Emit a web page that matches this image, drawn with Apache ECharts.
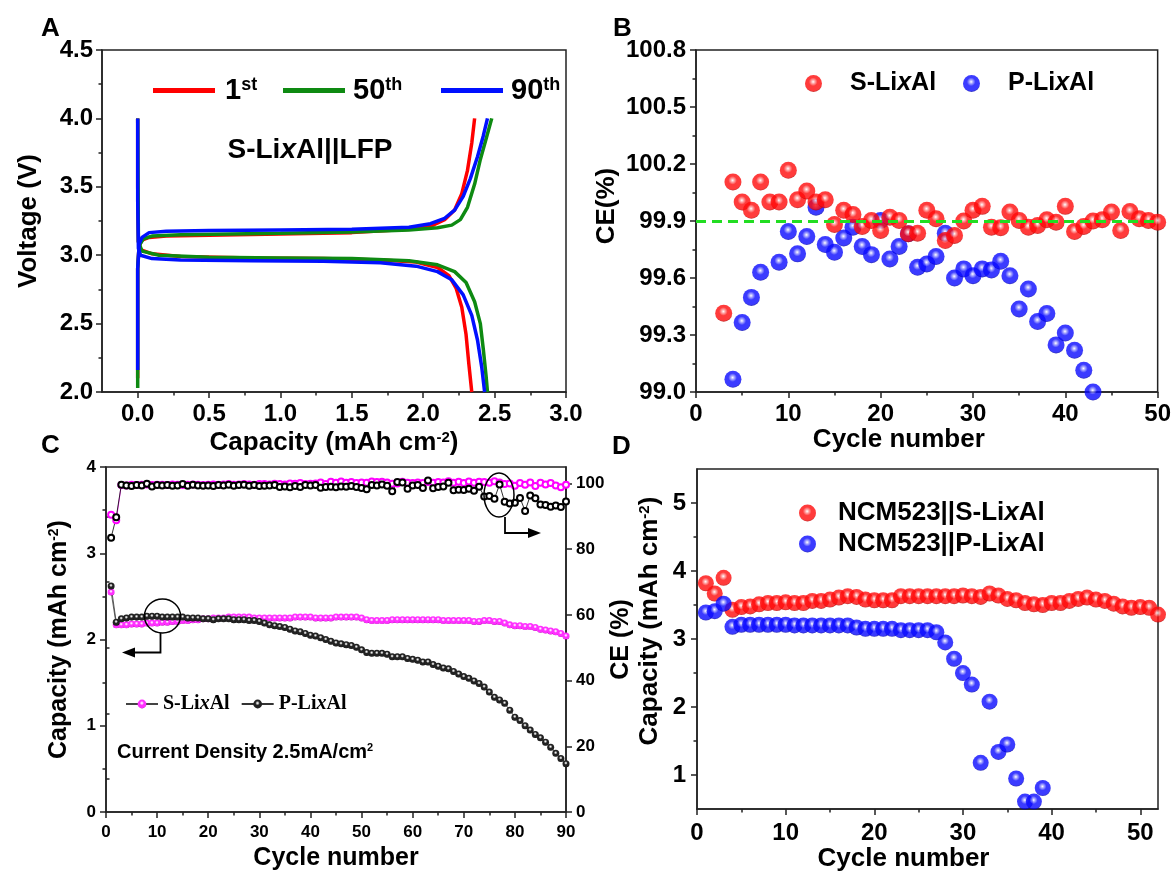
<!DOCTYPE html>
<html><head><meta charset="utf-8">
<script src="https://cdn.jsdelivr.net/npm/echarts@6/dist/echarts.min.js"></script>
<style>html,body{margin:0;padding:0;background:#fff}#c{width:1174px;height:873px}</style>
</head><body><div id="c"></div>
<script>
const SANS = "'Liberation Sans', Arial, Helvetica, sans-serif";
const SERIF = "'Liberation Serif', 'Times New Roman', serif";

// ---------- Panel A: voltage profiles [capacity (mAh cm-2), voltage (V)] ----------
const charge1st = [[0,2.10],[0,2.90],[0.01,3.07],[0.03,3.11],[0.08,3.13],[0.2,3.14],[0.5,3.145],[1.0,3.155],[1.5,3.165],[1.9,3.19],[2.05,3.21],[2.15,3.26],[2.22,3.33],[2.27,3.45],[2.31,3.62],[2.34,3.82],[2.36,4.0]];
const discharge1st = [[0,4.0],[0,3.5],[0.005,3.1],[0.02,3.04],[0.1,3.01],[0.3,2.99],[0.8,2.98],[1.3,2.975],[1.7,2.965],[1.95,2.95],[2.1,2.91],[2.18,2.85],[2.23,2.76],[2.27,2.62],[2.3,2.42],[2.32,2.2],[2.34,2.0]];
const charge50th = [[0,2.03],[0,2.90],[0.01,3.07],[0.04,3.12],[0.1,3.14],[0.3,3.15],[1.0,3.16],[1.5,3.17],[1.9,3.185],[2.1,3.2],[2.2,3.22],[2.26,3.26],[2.31,3.35],[2.36,3.52],[2.4,3.7],[2.44,3.85],[2.48,4.0]];
const discharge50th = [[0,4.0],[0.005,3.1],[0.03,3.03],[0.15,3.0],[0.5,2.985],[1.0,2.98],[1.5,2.975],[1.9,2.96],[2.1,2.93],[2.22,2.88],[2.3,2.8],[2.36,2.66],[2.4,2.5],[2.42,2.32],[2.44,2.12],[2.45,2.0]];
const charge90th = [[0,2.16],[0,2.90],[0.01,3.08],[0.03,3.13],[0.08,3.165],[0.2,3.175],[0.5,3.18],[1.0,3.185],[1.5,3.19],[1.9,3.205],[2.05,3.23],[2.15,3.27],[2.22,3.33],[2.28,3.43],[2.33,3.56],[2.38,3.72],[2.42,3.87],[2.45,4.0]];
const discharge90th = [[0,4.0],[0,3.4],[0.005,3.05],[0.02,3.0],[0.1,2.975],[0.3,2.965],[0.8,2.96],[1.3,2.955],[1.7,2.945],[1.95,2.92],[2.1,2.88],[2.2,2.82],[2.28,2.71],[2.34,2.56],[2.38,2.38],[2.41,2.18],[2.43,2.0]];
const aXLabels = [0,0.5,1.0,1.5,2.0,2.5,3.0];
const aXMinor = [0.25,0.75,1.25,1.75,2.25,2.75];

// ---------- Panel B: CE (%) ----------
const bCycleS = [3,4,5,6,7,8,9,10,11,12,13,14,15,16,17,18,19,20,21,22,23,24,25,26,27,28,29,30,31,32,33,34,35,36,37,38,39,40,41,42,43,44,45,46,47,48,49,50];
const bCE_S = [99.415,100.105,100.0,99.956,100.105,100.0,100.0,100.167,100.012,100.058,100.0,100.012,99.882,99.956,99.934,99.871,99.903,99.85,99.92,99.903,99.833,99.836,99.956,99.912,99.797,99.824,99.9,99.956,99.977,99.867,99.864,99.947,99.903,99.867,99.876,99.906,99.894,99.977,99.845,99.871,99.9,99.906,99.947,99.85,99.95,99.912,99.903,99.894];
const bCycleP = [4,5,6,7,9,10,11,12,13,14,15,16,17,18,19,20,21,22,23,24,25,26,27,28,29,30,31,32,33,34,35,36,37,38,39,40,41,42,43];
const bCE_P = [99.067,99.366,99.498,99.63,99.683,99.845,99.727,99.818,99.973,99.776,99.735,99.811,99.867,99.766,99.723,99.903,99.70,99.766,99.833,99.656,99.674,99.713,99.836,99.60,99.648,99.612,99.648,99.642,99.688,99.612,99.437,99.542,99.371,99.413,99.248,99.31,99.22,99.115,99.0];
const bRefCE = 99.9;

// ---------- Panel C: capacity & CE vs cycle (cycle = index + 1) ----------
const cCapS = [2.55,2.17,2.17,2.17,2.18,2.18,2.18,2.19,2.19,2.19,
  2.20,2.20,2.21,2.21,2.22,2.22,2.23,2.23,2.24,2.24,
  2.25,2.25,2.25,2.26,2.26,2.26,2.26,2.26,2.25,2.25,
  2.25,2.25,2.25,2.25,2.25,2.25,2.26,2.26,2.26,2.26,
  2.25,2.25,2.25,2.25,2.26,2.26,2.26,2.26,2.26,2.25,
  2.23,2.22,2.22,2.22,2.22,2.23,2.23,2.23,2.23,2.23,
  2.23,2.23,2.23,2.23,2.23,2.22,2.22,2.22,2.22,2.22,
  2.22,2.21,2.21,2.22,2.22,2.21,2.21,2.19,2.17,2.16,
  2.16,2.15,2.15,2.14,2.12,2.11,2.10,2.09,2.07,2.04];
const cCapP = [2.62,2.20,2.24,2.25,2.26,2.26,2.26,2.27,2.27,2.27,
  2.26,2.26,2.26,2.26,2.26,2.25,2.25,2.25,2.24,2.24,
  2.23,2.24,2.24,2.24,2.23,2.23,2.23,2.22,2.22,2.21,
  2.19,2.17,2.16,2.15,2.14,2.12,2.10,2.09,2.07,2.05,
  2.04,2.02,2.00,1.98,1.96,1.95,1.94,1.93,1.91,1.88,
  1.85,1.84,1.84,1.84,1.83,1.80,1.80,1.80,1.78,1.77,
  1.76,1.74,1.74,1.71,1.69,1.67,1.66,1.63,1.60,1.57,
  1.55,1.52,1.49,1.45,1.39,1.33,1.30,1.26,1.18,1.10,
  1.06,1.00,0.95,0.90,0.86,0.81,0.75,0.68,0.62,0.56];
const cCE_S = [90.5,88.8,99.5,99.4,99.6,99.5,99.6,99.7,99.5,99.6,
  99.6,99.5,99.7,99.6,99.5,99.6,99.7,99.6,99.5,99.6,
  99.7,99.6,99.7,99.8,99.6,99.7,99.8,99.7,99.6,99.8,
  99.8,99.7,99.9,99.8,99.7,100.0,99.9,100.1,99.8,99.9,
  100.0,100.3,99.8,100.5,100.2,100.6,100.2,100.4,100.1,100.3,
  100.2,100.6,100.4,100.5,100.3,99.9,100.0,100.5,100.2,100.1,
  100.3,100.1,100.4,100.2,100.4,100.3,100.7,100.2,100.5,100.1,
  100.6,100.2,100.5,100.4,100.2,100.7,100.3,99.8,100.0,99.3,
  100.1,99.6,100.3,99.2,100.2,99.7,100.1,99.4,98.8,99.6];
const cCE_P = [83.5,89.7,99.6,99.4,99.2,99.5,99.4,99.9,99.1,99.5,
  99.4,99.5,99.3,99.4,99.8,99.3,99.6,99.4,99.3,99.4,
  99.2,99.5,99.4,99.6,99.3,99.5,99.6,99.3,99.5,99.2,
  99.3,99.4,99.5,98.9,99.1,98.8,99.2,98.9,99.5,99.4,
  99.5,98.7,98.9,99.0,98.8,99.1,99.0,99.2,98.9,98.6,
  98.2,99.5,99.4,99.7,99.3,97.6,100.4,100.3,98.4,99.4,
  99.5,98.6,100.9,98.5,98.9,99.1,100.2,97.9,98.1,98.0,
  98.4,97.8,99.0,96.0,96.2,95.3,99.7,94.4,93.9,94.1,
  95.6,91.6,96.3,95.5,93.6,93.4,92.9,93.3,92.8,94.5];
const cRightLabels = [0,20,40,60,80,100];
const cRightMinor = [10,30,50,70,90];

// ---------- Panel D: capacity vs cycle (cycle = index + 1) ----------
const dCapS = [3.82,3.67,3.90,3.43,3.47,3.48,3.51,3.53,3.53,3.54,3.53,3.53,3.56,3.56,3.58,3.61,3.63,3.62,3.58,3.57,3.57,3.57,3.63,3.63,3.63,3.63,3.63,3.63,3.63,3.64,3.63,3.62,3.67,3.64,3.59,3.57,3.53,3.51,3.50,3.53,3.53,3.56,3.59,3.61,3.58,3.56,3.52,3.48,3.46,3.47,3.46,3.36];
const dCapP = [3.39,3.41,3.52,3.18,3.21,3.21,3.21,3.21,3.21,3.21,3.20,3.20,3.20,3.20,3.20,3.20,3.20,3.17,3.15,3.15,3.15,3.15,3.13,3.13,3.13,3.13,3.10,2.95,2.71,2.50,2.33,1.18,2.08,1.34,1.45,0.95,0.61,0.61,0.81];
const dXLabels = [0,10,20,30,40,50];
const dXMinor = [5,15,25,35,45];
const dYLabels = [1,2,3,4,5];
const dYMinor = [1.5,2.5,3.5,4.5];

// ---------- helpers ----------
const AX = '#222';
function sphere(hi, mid, dark){
  return {type:'radial', x:0.48, y:0.4, r:0.6, colorStops:[
    {offset:0, color:'#ffffff'},{offset:0.16, color:hi},{offset:0.42, color:mid},{offset:0.85, color:mid},{offset:1, color:dark}]};
}
const RED = sphere('#ff9a9a','#ff0a0a','#b40000');
const BLUE = sphere('#9a9aff','#0a0aff','#0000a8');
const MAG = sphere('#ffc8ff','#ff30ff','#c000c0');
const BLK = sphere('#c8c8c8','#222222','#000000');

function lbl(size, margin, fmt, custom){
  const o = {show:true, fontFamily:SANS, fontWeight:'bold', fontSize:size, color:'#000', margin:margin};
  if (fmt) o.formatter = fmt;
  if (custom) o.customValues = custom;
  return o;
}
function tick(len, custom){
  const o = {show:true, inside:false, length:len, lineStyle:{color:AX, width:1.5}};
  if (custom) o.customValues = custom;
  return o;
}
const minor = {show:true, splitNumber:2, length:3.5, lineStyle:{color:AX, width:1.5}};
const aLine = {show:true, onZero:false, lineStyle:{color:AX, width:1.5}};
function nameStyle(size, pad){
  return {fontFamily:SANS, fontWeight:'bold', fontSize:size, color:'#000', padding:pad||0,
    rich:{s:{fontFamily:SANS, fontWeight:'bold', fontSize:Math.round(size*0.58), color:'#000', verticalAlign:'top'}}};
}
function minorAxis(gi, pos, min, max, vals){
  return {type:'value', gridIndex:gi, position:pos, min:min, max:max,
    axisLine:{show:false}, axisLabel:{show:false}, splitLine:{show:false},
    axisTick:tick(3.5, vals)};
}
const gridBase = {show:true, borderColor:AX, borderWidth:1.5, backgroundColor:'transparent', containLabel:false};

const option = {
  animation:false,
  backgroundColor:'#fff',
  textStyle:{fontFamily:SANS},
  grid:[
    Object.assign({left:102, top:50, width:464, height:342}, gridBase),
    Object.assign({left:696, top:50, width:462, height:342}, gridBase),
    Object.assign({left:106, top:467, width:460, height:345}, gridBase),
    Object.assign({left:697, top:469, width:461, height:341}, gridBase)
  ],
  xAxis:[
    {type:'value', gridIndex:0, min:-0.25, max:3, axisLine:aLine, splitLine:{show:false},
      axisTick:tick(6, aXLabels), axisLabel:lbl(24, 10, v=>v.toFixed(1), aXLabels),
      name:'Capacity (mAh cm{s|-2})', nameLocation:'middle', nameGap:38, nameTextStyle:nameStyle(26)},
    minorAxis(0, 'bottom', -0.25, 3, aXMinor),
    {type:'value', gridIndex:1, min:0, max:50, interval:10, axisLine:aLine, splitLine:{show:false},
      axisTick:tick(6), minorTick:minor, axisLabel:lbl(24, 10),
      name:'Cycle number', nameLocation:'middle', nameGap:34, nameTextStyle:nameStyle(26,[0,56,0,0])},
    {type:'value', gridIndex:2, min:0, max:90, interval:10, axisLine:aLine, splitLine:{show:false},
      axisTick:tick(6), minorTick:minor, axisLabel:lbl(17, 12),
      name:'Cycle number', nameLocation:'middle', nameGap:34, nameTextStyle:nameStyle(25)},
    {type:'value', gridIndex:3, min:0, max:52, axisLine:aLine, splitLine:{show:false},
      axisTick:tick(6, dXLabels), axisLabel:lbl(24, 12, null, dXLabels),
      name:'Cycle number', nameLocation:'middle', nameGap:34, nameTextStyle:nameStyle(26,[0,48,0,0])},
    minorAxis(3, 'bottom', 0, 52, dXMinor)
  ],
  yAxis:[
    {type:'value', gridIndex:0, min:2, max:4.5, interval:0.5, axisLine:aLine, splitLine:{show:false},
      axisTick:tick(6), minorTick:minor, axisLabel:lbl(24, 9, v=>v.toFixed(1)),
      name:'Voltage (V)', nameLocation:'middle', nameGap:60, nameTextStyle:nameStyle(26)},
    {type:'value', gridIndex:1, min:99, max:100.8, interval:0.3, axisLine:aLine, splitLine:{show:false},
      axisTick:tick(6), minorTick:minor, axisLabel:lbl(24, 10, v=>v.toFixed(1)),
      name:'CE(%)', nameLocation:'middle', nameGap:76, nameTextStyle:nameStyle(26,[0,0,0,30])},
    {type:'value', gridIndex:2, min:0, max:4, interval:1, axisLine:aLine, splitLine:{show:false},
      axisTick:tick(6), minorTick:minor, axisLabel:lbl(17, 10),
      name:'Capacity (mAh cm{s|-2})', nameLocation:'middle', nameGap:34, nameTextStyle:nameStyle(25)},
    {type:'value', gridIndex:2, position:'right', min:0, max:105, axisLine:aLine, splitLine:{show:false},
      axisTick:tick(6, cRightLabels), axisLabel:lbl(17, 10, null, cRightLabels),
      name:'CE (%)', nameLocation:'middle', nameGap:40, nameTextStyle:nameStyle(25)},
    minorAxis(2, 'right', 0, 105, cRightMinor),
    {type:'value', gridIndex:3, min:0.5, max:5.5, axisLine:aLine, splitLine:{show:false},
      axisTick:tick(6, dYLabels), axisLabel:lbl(24, 11, null, dYLabels),
      name:'Capacity (mAh cm{s|-2})', nameLocation:'middle', nameGap:34, nameTextStyle:nameStyle(26,[0,0,0,36])},
    minorAxis(3, 'left', 0.5, 5.5, dYMinor)
  ],
  legend:[
    {data:['A1'], left:148, top:71, icon:'rect', itemWidth:62, itemHeight:5, selectedMode:false,
      formatter:()=>'{n|1}{s|st}',
      textStyle:{padding:[0,0,0,5], rich:{n:{fontFamily:SANS,fontWeight:'bold',fontSize:29,color:'#000'}, s:{fontFamily:SANS,fontWeight:'bold',fontSize:18,color:'#000',verticalAlign:'top'}}}},
    {data:['A50'], left:278, top:71, icon:'rect', itemWidth:62, itemHeight:5, selectedMode:false,
      formatter:()=>'{n|50}{s|th}',
      textStyle:{padding:[0,0,0,3], rich:{n:{fontFamily:SANS,fontWeight:'bold',fontSize:29,color:'#000'}, s:{fontFamily:SANS,fontWeight:'bold',fontSize:18,color:'#000',verticalAlign:'top'}}}},
    {data:['A90'], left:436, top:71, icon:'rect', itemWidth:62, itemHeight:5, selectedMode:false,
      formatter:()=>'{n|90}{s|th}',
      textStyle:{padding:[0,0,0,3], rich:{n:{fontFamily:SANS,fontWeight:'bold',fontSize:29,color:'#000'}, s:{fontFamily:SANS,fontWeight:'bold',fontSize:18,color:'#000',verticalAlign:'top'}}}},
    {data:['BS'], left:800, top:66, icon:'circle', itemWidth:17, itemHeight:17, selectedMode:false,
      formatter:()=>'{a|S-Li}{i|x}{a|Al}',
      textStyle:{padding:[0,0,0,23], rich:{a:{fontFamily:SANS,fontWeight:'bold',fontSize:25,color:'#000'}, i:{fontFamily:SANS,fontWeight:'bold',fontStyle:'italic',fontSize:25,color:'#000'}}}},
    {data:['BP'], left:958, top:66, icon:'circle', itemWidth:17, itemHeight:17, selectedMode:false,
      formatter:()=>'{a|P-Li}{i|x}{a|Al}',
      textStyle:{padding:[0,0,0,23], rich:{a:{fontFamily:SANS,fontWeight:'bold',fontSize:25,color:'#000'}, i:{fontFamily:SANS,fontWeight:'bold',fontStyle:'italic',fontSize:25,color:'#000'}}}},
    {data:['CS','CP'], left:120, top:689, itemWidth:32, itemHeight:11, itemGap:11, selectedMode:false,
      formatter:(n)=> n==='CS' ? '{a|S-Li}{i|x}{a|Al}' : '{a|P-Li}{i|x}{a|Al}',
      textStyle:{rich:{a:{fontFamily:SERIF,fontWeight:'bold',fontSize:20,color:'#000'}, i:{fontFamily:SERIF,fontWeight:'bold',fontStyle:'italic',fontSize:20,color:'#000'}}}},
    {data:['DS','DP'], orient:'vertical', left:794, top:495, itemWidth:17, itemHeight:17, itemGap:5, icon:'circle', selectedMode:false,
      formatter:(n)=> n==='DS' ? '{a|NCM523||S-Li}{i|x}{a|Al}' : '{a|NCM523||P-Li}{i|x}{a|Al}',
      textStyle:{padding:[0,0,0,17], rich:{a:{fontFamily:SANS,fontWeight:'bold',fontSize:26,color:'#000',lineHeight:30}, i:{fontFamily:SANS,fontWeight:'bold',fontStyle:'italic',fontSize:26,color:'#000',lineHeight:30}}}}
  ],
  series:[
    // Panel A
    {name:'A1', type:'line', xAxisIndex:0, yAxisIndex:0, data:charge1st, symbol:'none', lineStyle:{color:'#ff0000', width:3.5}, itemStyle:{color:'#ff0000'}},
    {name:'A1', type:'line', xAxisIndex:0, yAxisIndex:0, data:discharge1st, symbol:'none', lineStyle:{color:'#ff0000', width:3.5}, itemStyle:{color:'#ff0000'}},
    {name:'A50', type:'line', xAxisIndex:0, yAxisIndex:0, data:charge50th, symbol:'none', lineStyle:{color:'#0e8a12', width:3.5}, itemStyle:{color:'#0e8a12'}},
    {name:'A50', type:'line', xAxisIndex:0, yAxisIndex:0, data:discharge50th, symbol:'none', lineStyle:{color:'#0e8a12', width:3.5}, itemStyle:{color:'#0e8a12'}},
    {name:'A90', type:'line', xAxisIndex:0, yAxisIndex:0, data:charge90th, symbol:'none', lineStyle:{color:'#0010ff', width:3.5}, itemStyle:{color:'#0010ff'}},
    {name:'A90', type:'line', xAxisIndex:0, yAxisIndex:0, data:discharge90th, symbol:'none', lineStyle:{color:'#0010ff', width:3.5}, itemStyle:{color:'#0010ff'}},
    // Panel B
    {name:'BP', type:'scatter', xAxisIndex:2, yAxisIndex:1, symbolSize:17, itemStyle:{color:BLUE},
      data:bCycleP.map((c,i)=>[c,bCE_P[i]])},
    {name:'BS', type:'scatter', xAxisIndex:2, yAxisIndex:1, symbolSize:17, itemStyle:{color:RED},
      data:bCycleS.map((c,i)=>[c,bCE_S[i]]),
      markLine:{silent:true, symbol:['none','none'], label:{show:false}, z:5,
        lineStyle:{color:'#22dd22', type:[10,6], width:3}, data:[{yAxis:bRefCE}]}},
    // Panel C
    {name:'CS', type:'line', xAxisIndex:3, yAxisIndex:2, symbol:'circle', symbolSize:7, showAllSymbol:true,
      itemStyle:{color:MAG}, lineStyle:{color:'#444', width:0.8}, data:cCapS.map((v,i)=>[i+1,v])},
    {name:'CP', type:'line', xAxisIndex:3, yAxisIndex:2, symbol:'circle', symbolSize:7, showAllSymbol:true,
      itemStyle:{color:BLK}, lineStyle:{color:'#333', width:0.8}, data:cCapP.map((v,i)=>[i+1,v])},
    {name:'CSce', type:'line', xAxisIndex:3, yAxisIndex:3, symbol:'emptyCircle', symbolSize:6, showAllSymbol:true,
      itemStyle:{color:'#ff00ff', borderWidth:1.2}, lineStyle:{color:'#ff00ff', width:0.8}, data:cCE_S.map((v,i)=>[i+1,v])},
    {name:'CPce', type:'line', xAxisIndex:3, yAxisIndex:3, symbol:'emptyCircle', symbolSize:6, showAllSymbol:true,
      itemStyle:{color:'#000', borderWidth:1.2}, lineStyle:{color:'#000', width:0.8}, data:cCE_P.map((v,i)=>[i+1,v])},
    // Panel D
    {name:'DS', type:'scatter', xAxisIndex:4, yAxisIndex:5, symbolSize:16, itemStyle:{color:RED},
      data:dCapS.map((v,i)=>[i+1,v])},
    {name:'DP', type:'scatter', xAxisIndex:4, yAxisIndex:5, symbolSize:16, itemStyle:{color:BLUE},
      data:dCapP.map((v,i)=>[i+1,v])}
  ],
  graphic:{elements:[
    {type:'text', x:41, y:29, z:100, style:{text:'A', fontFamily:SANS, fontWeight:'bold', fontSize:26, fill:'#000', verticalAlign:'middle'}},
    {type:'text', x:613, y:29, z:100, style:{text:'B', fontFamily:SANS, fontWeight:'bold', fontSize:26, fill:'#000', verticalAlign:'middle'}},
    {type:'text', x:41, y:446, z:100, style:{text:'C', fontFamily:SANS, fontWeight:'bold', fontSize:26, fill:'#000', verticalAlign:'middle'}},
    {type:'text', x:612, y:447, z:100, style:{text:'D', fontFamily:SANS, fontWeight:'bold', fontSize:26, fill:'#000', verticalAlign:'middle'}},
    {type:'text', x:310, y:150, z:100, style:{text:'{a|S-Li}{i|x}{a|Al||LFP}', align:'center', verticalAlign:'middle',
      rich:{a:{fontFamily:SANS, fontWeight:'bold', fontSize:28, fill:'#000'}, i:{fontFamily:SANS, fontWeight:'bold', fontStyle:'italic', fontSize:28, fill:'#000'}}}},
    {type:'text', x:117, y:752, z:100, style:{text:'Current Density 2.5mA/cm{s|2}', fontFamily:SANS, fontWeight:'bold', fontSize:20, fill:'#000', verticalAlign:'middle',
      rich:{s:{fontFamily:SANS, fontWeight:'bold', fontSize:11, fill:'#000', verticalAlign:'top'}}}},
    {type:'ellipse', z:100, shape:{cx:162.5, cy:616, rx:18, ry:17}, style:{fill:null, stroke:'#000', lineWidth:1.5}},
    {type:'polyline', z:100, shape:{points:[[160.5,633],[160.5,652.5],[132,652.5]]}, style:{stroke:'#000', lineWidth:1.8, fill:null}},
    {type:'polygon', z:100, shape:{points:[[122,652.5],[135,647.5],[135,657.5]]}, style:{fill:'#000'}},
    {type:'ellipse', z:100, shape:{cx:499, cy:495, rx:15, ry:22}, style:{fill:null, stroke:'#000', lineWidth:1.5}},
    {type:'polyline', z:100, shape:{points:[[505,517],[505,533],[530,533]]}, style:{stroke:'#000', lineWidth:1.8, fill:null}},
    {type:'polygon', z:100, shape:{points:[[541,533],[528,528],[528,538]]}, style:{fill:'#000'}}
  ]}
};
const chart = echarts.init(document.getElementById('c'), null, {renderer:'canvas'});
chart.setOption(option);
</script>
</body></html>
